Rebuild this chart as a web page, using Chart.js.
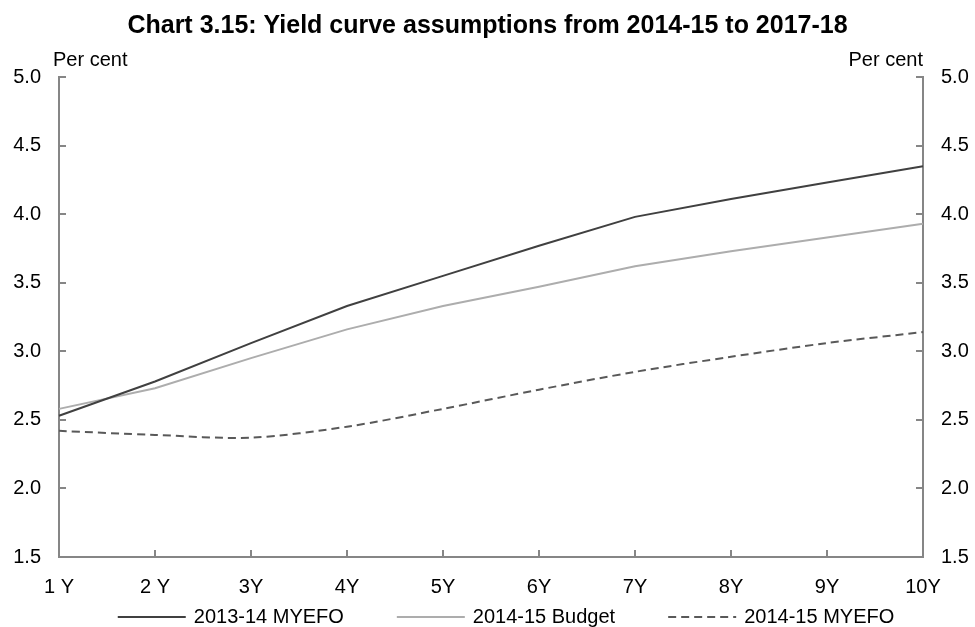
<!DOCTYPE html>
<html>
<head>
<meta charset="utf-8">
<script src="https://cdn.jsdelivr.net/npm/chart.js@4"></script>
<style>
    html, body { margin: 0; padding: 0; background: #fff; }
    #chart { display: block; }
</style>
</head>
<body>
<canvas id="chart" width="975" height="627"></canvas>
<script>
const titleText = "Chart 3.15: Yield curve assumptions from 2014-15 to 2017-18";
const unitLabel = "Per cent";

const tenors = ["1 Y", "2 Y", "3Y", "4Y", "5Y", "6Y", "7Y", "8Y", "9Y", "10Y"];

const myefo1314 = [2.53, 2.78, 3.06, 3.33, 3.55, 3.77, 3.98, 4.11, 4.23, 4.35];
const budget1415 = [2.58, 2.73, 2.95, 3.16, 3.33, 3.47, 3.62, 3.73, 3.83, 3.93];
const myefo1415 = [2.42, 2.39, 2.37, 2.45, 2.58, 2.72, 2.85, 2.96, 3.06, 3.14];

const yMin = 1.5;
const yMax = 5.0;
const yStep = 0.5;

const AXIS = "#868686";
const FONT = "'Liberation Sans', Arial, sans-serif";

// "Per cent" above both axes
const unitPlugin = {
    id: "unitLabels",
    afterDraw(chart) {
        const { ctx, chartArea } = chart;
        ctx.save();
        ctx.font = `20px ${FONT}`;
        ctx.fillStyle = "#000";
        ctx.textBaseline = "middle";
        ctx.textAlign = "left";
        ctx.fillText(unitLabel, chartArea.left - 6, 60);
        ctx.textAlign = "right";
        ctx.fillText(unitLabel, chartArea.right, 60);
        ctx.restore();
    }
};

// legend drawn as line samples, spaced like the original
const legendPlugin = {
    id: "lineLegend",
    afterDraw(chart) {
        const { ctx } = chart;
        const sample = 68, gap = 8, between = 53;
        ctx.save();
        ctx.font = `20px ${FONT}`;
        const items = chart.data.datasets.map(ds => ({
            ds, w: sample + gap + ctx.measureText(ds.label).width
        }));
        const total = items.reduce((s, it) => s + it.w, 0) + between * (items.length - 1);
        let x = 506 - total / 2;
        const y = 617;
        items.forEach(({ ds, w }) => {
            ctx.strokeStyle = ds.borderColor;
            ctx.lineWidth = ds.borderWidth;
            ctx.setLineDash(ds.borderDash || []);
            ctx.beginPath();
            ctx.moveTo(x, y);
            ctx.lineTo(x + sample, y);
            ctx.stroke();
            ctx.setLineDash([]);
            ctx.fillStyle = "#000";
            ctx.textBaseline = "middle";
            ctx.textAlign = "left";
            ctx.fillText(ds.label, x + sample + gap, y);
            x += w + between;
        });
        ctx.restore();
    }
};

function yAxis(position, width) {
    return {
        type: "linear",
        position,
        min: yMin,
        max: yMax,
        border: { color: AXIS, width: 2 },
        grid: { drawOnChartArea: false, color: AXIS, lineWidth: 2, tickLength: -7 },
        ticks: {
            stepSize: yStep,
            padding: 25,
            color: "#000",
            font: { family: FONT, size: 20 },
            callback: v => v.toFixed(1)
        },
        afterFit: s => { s.width = width; }
    };
}

new Chart(document.getElementById("chart"), {
    type: "line",
    data: {
        labels: tenors,
        datasets: [
            {
                label: "2013-14 MYEFO",
                data: myefo1314,
                borderColor: "#404040",
                borderWidth: 2,
                pointRadius: 0,
                tension: 0,
                yAxisID: "y"
            },
            {
                label: "2014-15 Budget",
                data: budget1415,
                borderColor: "#adadad",
                borderWidth: 2,
                pointRadius: 0,
                tension: 0,
                yAxisID: "y"
            },
            {
                label: "2014-15 MYEFO",
                data: myefo1415,
                borderColor: "#595959",
                borderWidth: 2,
                borderDash: [8, 5],
                pointRadius: 0,
                tension: 0.3,
                yAxisID: "y"
            }
        ]
    },
    options: {
        responsive: false,
        animation: false,
        devicePixelRatio: 1,
        layout: { padding: { left: 0, right: 0, top: 0, bottom: 30 } },
        plugins: {
            legend: { display: false },
            tooltip: { enabled: false },
            title: {
                display: true,
                text: titleText,
                color: "#000",
                font: { family: FONT, size: 25, weight: "bold", lineHeight: 1.2 },
                padding: { top: 11, bottom: 36 }
            }
        },
        scales: {
            x: {
                type: "category",
                offset: false,
                border: { color: AXIS, width: 2 },
                grid: { drawOnChartArea: false, color: AXIS, lineWidth: 2, tickLength: -7 },
                ticks: {
                    padding: 25,
                    maxRotation: 0,
                    autoSkip: false,
                    color: "#000",
                    font: { family: FONT, size: 20 }
                },
                afterFit: s => { s.height = 40; }
            },
            y: yAxis("left", 59),
            y2: yAxis("right", 52)
        }
    },
    plugins: [unitPlugin, legendPlugin]
});
</script>
</body>
</html>
